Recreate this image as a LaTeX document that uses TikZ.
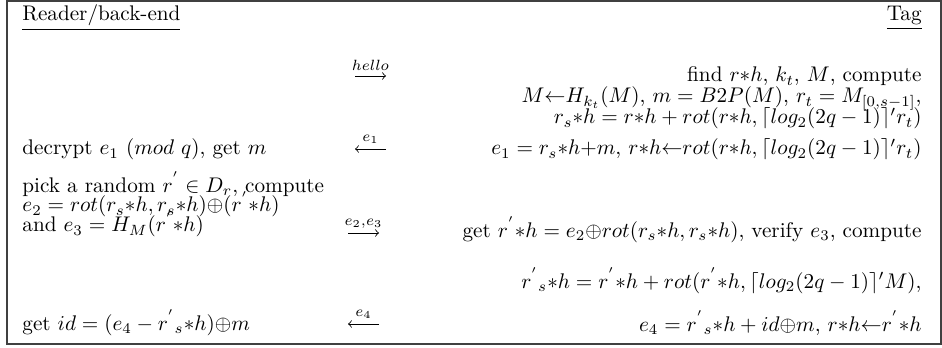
\documentclass[tikz,border=0pt]{standalone}
\usepackage{amsmath}
\begin{document}
\begin{tikzpicture}[x=0.472pt,y={(0pt,-0.472pt)},
  lt/.style={anchor=base west,inner sep=0pt},
  rt/.style={anchor=base east,inner sep=0pt},
  msgarrow/.style={line width=0.4pt,-to},
  msglabel/.style={midway,above=2.2pt,inner sep=0pt}]
\useasboundingbox (0,0) rectangle (942,348);
\draw[line width=0.6pt,black!75] (7,1) rectangle (941,344);
% headers
\node[lt] (reader) at (22,21) {\underline{Reader/back-end}};
\node[rt] (tag) at (922,21) {\underline{Tag}};
% message arrows
\coordinate (a1s) at (355,76); \coordinate (a1e) at (386,76);
\coordinate (a2s) at (386,149); \coordinate (a2e) at (355,149);
\coordinate (a3s) at (348,233); \coordinate (a3e) at (379,233);
\coordinate (a4s) at (379,324); \coordinate (a4e) at (348,324);
\draw[msgarrow] (a1s) -- (a1e) node[msglabel] (l1) {$\scriptstyle hello$};
\draw[msgarrow] (a2s) -- (a2e) node[msglabel] (l2) {$\scriptstyle e_1$};
\draw[msgarrow] (a3s) -- (a3e) node[msglabel] (l3) {$\scriptstyle e_2,e_3$};
\draw[msgarrow] (a4s) -- (a4e) node[msglabel] (l4) {$\scriptstyle e_4$};
% row 1
\node[rt] (t1a) at (922,82) {find $r{*}h$, $k_t$, $M$, compute};
\node[rt] (t1b) at (922,103) {$M{\leftarrow}H_{k_t}(M)$, $m=B2P(M)$, $r_t=M_{[0,s-1]}$,};
\node[rt] (t1c) at (922,124) {$r_s{*}h=r{*}h+rot(r{*}h,\lceil log_2(2q-1)\rceil' r_t)$};
% row 2
\node[lt] (r2) at (22,155) {decrypt $e_1$ $(mod\ q)$, get $m$};
\node[rt] (t2) at (922,155) {$e_1=r_s{*}h{+}m$, $r{*}h{\leftarrow}rot(r{*}h,\lceil log_2(2q-1)\rceil' r_t)$};
% row 3
\node[lt] (r3a) at (22,192) {pick a random $r^{'}\in D_r$, compute};
\node[lt] (r3b) at (22,212) {$e_2=rot(r_s{*}h,r_s{*}h){\oplus}(r^{'}{*}h)$};
\node[lt] (r3c) at (22,232) {and $e_3=H_M(r^{'}{*}h)$};
\node[rt] (t3a) at (922,237) {get $r^{'}{*}h=e_2{\oplus}rot(r_s{*}h,r_s{*}h)$, verify $e_3$, compute};
\node[rt] (t3b) at (922,288) {$r^{'}{}_s{*}h=r^{'}{*}h+rot(r^{'}{*}h,\lceil log_2(2q-1)\rceil' M)$,};
% row 4
\node[lt] (r4) at (22,330) {get $id=(e_4-r^{'}{}_s{*}h){\oplus}m$};
\node[rt] (t4) at (922,331) {$e_4=r^{'}{}_s{*}h+id{\oplus}m$, $r{*}h{\leftarrow}r^{'}{*}h$};
\end{tikzpicture}
\end{document}
